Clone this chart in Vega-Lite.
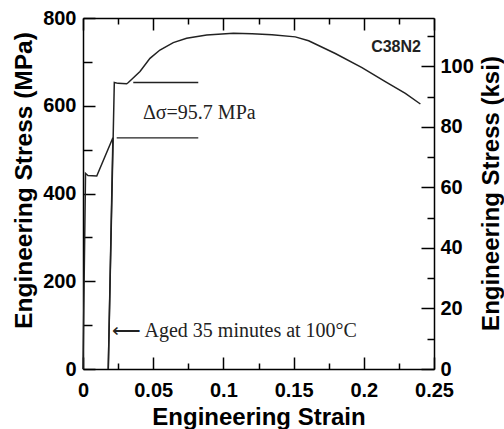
{
  "$schema": "https://vega.github.io/schema/vega-lite/v6.json",
  "autosize": {"type": "none"},
  "width": 351,
  "height": 351,
  "padding": {"left": 83, "top": 18, "right": 70, "bottom": 60},
  "background": "white",
  "config": {
    "view": {"stroke": null},
    "axis": {
      "domainColor": "black", "domainWidth": 1.5,
      "tickColor": "black", "tickWidth": 1.5,
      "labelFont": "Liberation Sans", "labelFontWeight": "bold", "labelFontSize": 20, "labelColor": "black",
      "titleFont": "Liberation Sans", "titleFontWeight": "bold", "titleFontSize": 24, "titleColor": "black",
      "grid": false, "labelFlush": false, "labelOverlap": false
    }
  },
  "datasets": {
    "curves": [
      {"series": "A", "i": 1, "strain": 0.0, "stress": 0},
      {"series": "A", "i": 2, "strain": 0.0018, "stress": 446},
      {"series": "A", "i": 3, "strain": 0.0035, "stress": 441},
      {"series": "A", "i": 4, "strain": 0.0098, "stress": 440},
      {"series": "A", "i": 5, "strain": 0.0213, "stress": 527},
      {"series": "A", "i": 6, "strain": 0.0180, "stress": 0},
      {"series": "B", "i": 1, "strain": 0.0180, "stress": 0},
      {"series": "B", "i": 2, "strain": 0.0223, "stress": 653},
      {"series": "B", "i": 3, "strain": 0.0250, "stress": 651},
      {"series": "B", "i": 4, "strain": 0.0311, "stress": 650},
      {"series": "B", "i": 5, "strain": 0.0323, "stress": 653},
      {"series": "B", "i": 6, "strain": 0.0406, "stress": 678},
      {"series": "B", "i": 7, "strain": 0.0477, "stress": 708},
      {"series": "B", "i": 8, "strain": 0.0548, "stress": 727},
      {"series": "B", "i": 9, "strain": 0.0643, "stress": 744},
      {"series": "B", "i": 10, "strain": 0.0738, "stress": 754},
      {"series": "B", "i": 11, "strain": 0.0881, "stress": 761},
      {"series": "B", "i": 12, "strain": 0.1071, "stress": 765},
      {"series": "B", "i": 13, "strain": 0.1204, "stress": 764},
      {"series": "B", "i": 14, "strain": 0.1346, "stress": 762},
      {"series": "B", "i": 15, "strain": 0.1512, "stress": 757},
      {"series": "B", "i": 16, "strain": 0.1607, "stress": 748},
      {"series": "B", "i": 17, "strain": 0.1797, "stress": 719},
      {"series": "B", "i": 18, "strain": 0.1987, "stress": 687},
      {"series": "B", "i": 19, "strain": 0.2153, "stress": 655},
      {"series": "B", "i": 20, "strain": 0.2296, "stress": 628},
      {"series": "B", "i": 21, "strain": 0.2403, "stress": 604}
    ],
    "hlines": [
      {"x1": 0.0358, "x2": 0.0821, "stress": 653},
      {"x1": 0.0240, "x2": 0.0821, "stress": 527}
    ],
    "notes": [
      {"strain": 0.0427, "stress": 569, "text": "Δσ=95.7 MPa"},
      {"strain": 0.0204, "stress": 74, "text": "⟵ Aged 35 minutes at 100°C"}
    ],
    "label": [
      {"strain": 0.2407, "stress": 722, "text": "C38N2"}
    ],
    "ksi": [{"ksi": 0}, {"ksi": 116.03}],
    "top": [{"strain": 0}, {"strain": 0.25}]
  },
  "resolve": {"scale": {"y": "independent"}, "axis": {"x": "independent", "y": "independent"}},
  "layer": [
    {
      "data": {"name": "curves"},
      "mark": {"type": "line", "color": "#222", "strokeWidth": 1.5},
      "encoding": {
        "x": {
          "field": "strain", "type": "quantitative",
          "scale": {"domain": [0, 0.25], "nice": false, "zero": false},
          "axis": {
            "orient": "bottom", "title": "Engineering Strain", "format": "~g",
            "values": [0, 0.025, 0.05, 0.075, 0.1, 0.125, 0.15, 0.175, 0.2, 0.225, 0.25],
            "labelExpr": "round(datum.value*1000) % 50 === 0 ? datum.label : ''",
            "tickSize": {"condition": {"test": "round(datum.value*1000) % 50 === 0", "value": -12}, "value": -6},
            "labelPadding": 23,
            "titleBaseline": "alphabetic", "titleY": 55
          }
        },
        "y": {
          "field": "stress", "type": "quantitative",
          "scale": {"domain": [0, 800], "nice": false},
          "axis": {
            "orient": "left", "title": "Engineering Stress (MPa)",
            "values": [0, 100, 200, 300, 400, 500, 600, 700, 800],
            "labelExpr": "datum.value % 200 === 0 ? datum.label : ''",
            "tickSize": {"condition": {"test": "datum.value % 200 === 0", "value": -12}, "value": -9},
            "labelPadding": 19, "titleFontSize": 24.5,
            "titleAngle": 270, "titleBaseline": "alphabetic", "titleX": -52, "titleY": 162
          }
        },
        "detail": {"field": "series"},
        "order": {"field": "i", "type": "quantitative"}
      }
    },
    {
      "data": {"name": "hlines"},
      "mark": {"type": "rule", "color": "#222", "strokeWidth": 1.3},
      "encoding": {
        "x": {"field": "x1", "type": "quantitative", "scale": {"domain": [0, 0.25], "nice": false, "zero": false}, "axis": null},
        "x2": {"field": "x2"},
        "y": {"field": "stress", "type": "quantitative", "scale": {"domain": [0, 800], "nice": false}, "axis": null}
      }
    },
    {
      "data": {"name": "notes"},
      "mark": {"type": "text", "font": "Liberation Serif", "fontSize": 20, "align": "left", "baseline": "alphabetic", "color": "#222"},
      "encoding": {
        "x": {"field": "strain", "type": "quantitative", "scale": {"domain": [0, 0.25], "nice": false, "zero": false}, "axis": null},
        "y": {"field": "stress", "type": "quantitative", "scale": {"domain": [0, 800], "nice": false}, "axis": null},
        "text": {"field": "text"}
      }
    },
    {
      "data": {"name": "label"},
      "mark": {"type": "text", "font": "Liberation Sans", "fontWeight": "bold", "fontSize": 16, "align": "right", "baseline": "alphabetic", "color": "#222"},
      "encoding": {
        "x": {"field": "strain", "type": "quantitative", "scale": {"domain": [0, 0.25], "nice": false, "zero": false}, "axis": null},
        "y": {"field": "stress", "type": "quantitative", "scale": {"domain": [0, 800], "nice": false}, "axis": null},
        "text": {"field": "text"}
      }
    },
    {
      "data": {"name": "top"},
      "mark": {"type": "rule", "opacity": 0},
      "encoding": {
        "x": {
          "field": "strain", "type": "quantitative",
          "scale": {"domain": [0, 0.25], "nice": false, "zero": false},
          "axis": {
            "orient": "top", "title": null, "labels": false,
            "values": [0, 0.025, 0.05, 0.075, 0.1, 0.125, 0.15, 0.175, 0.2, 0.225, 0.25],
            "tickSize": {"condition": {"test": "round(datum.value*1000) % 50 === 0", "value": -12}, "value": -6}
          }
        }
      }
    },
    {
      "data": {"name": "ksi"},
      "mark": {"type": "rule", "opacity": 0},
      "encoding": {
        "y": {
          "field": "ksi", "type": "quantitative",
          "scale": {"domain": [0, 116.03], "nice": false},
          "axis": {
            "orient": "right", "title": "Engineering Stress (ksi)",
            "values": [0, 10, 20, 30, 40, 50, 60, 70, 80, 90, 100, 110],
            "labelExpr": "datum.value % 20 === 0 ? datum.label : ''",
            "tickSize": {"condition": {"test": "datum.value % 20 === 0", "value": -13}, "value": -7},
            "labelPadding": 19,
            "titleAngle": 270, "titleBaseline": "alphabetic", "titleX": 64, "titleY": 175
          }
        }
      }
    }
  ]
}
